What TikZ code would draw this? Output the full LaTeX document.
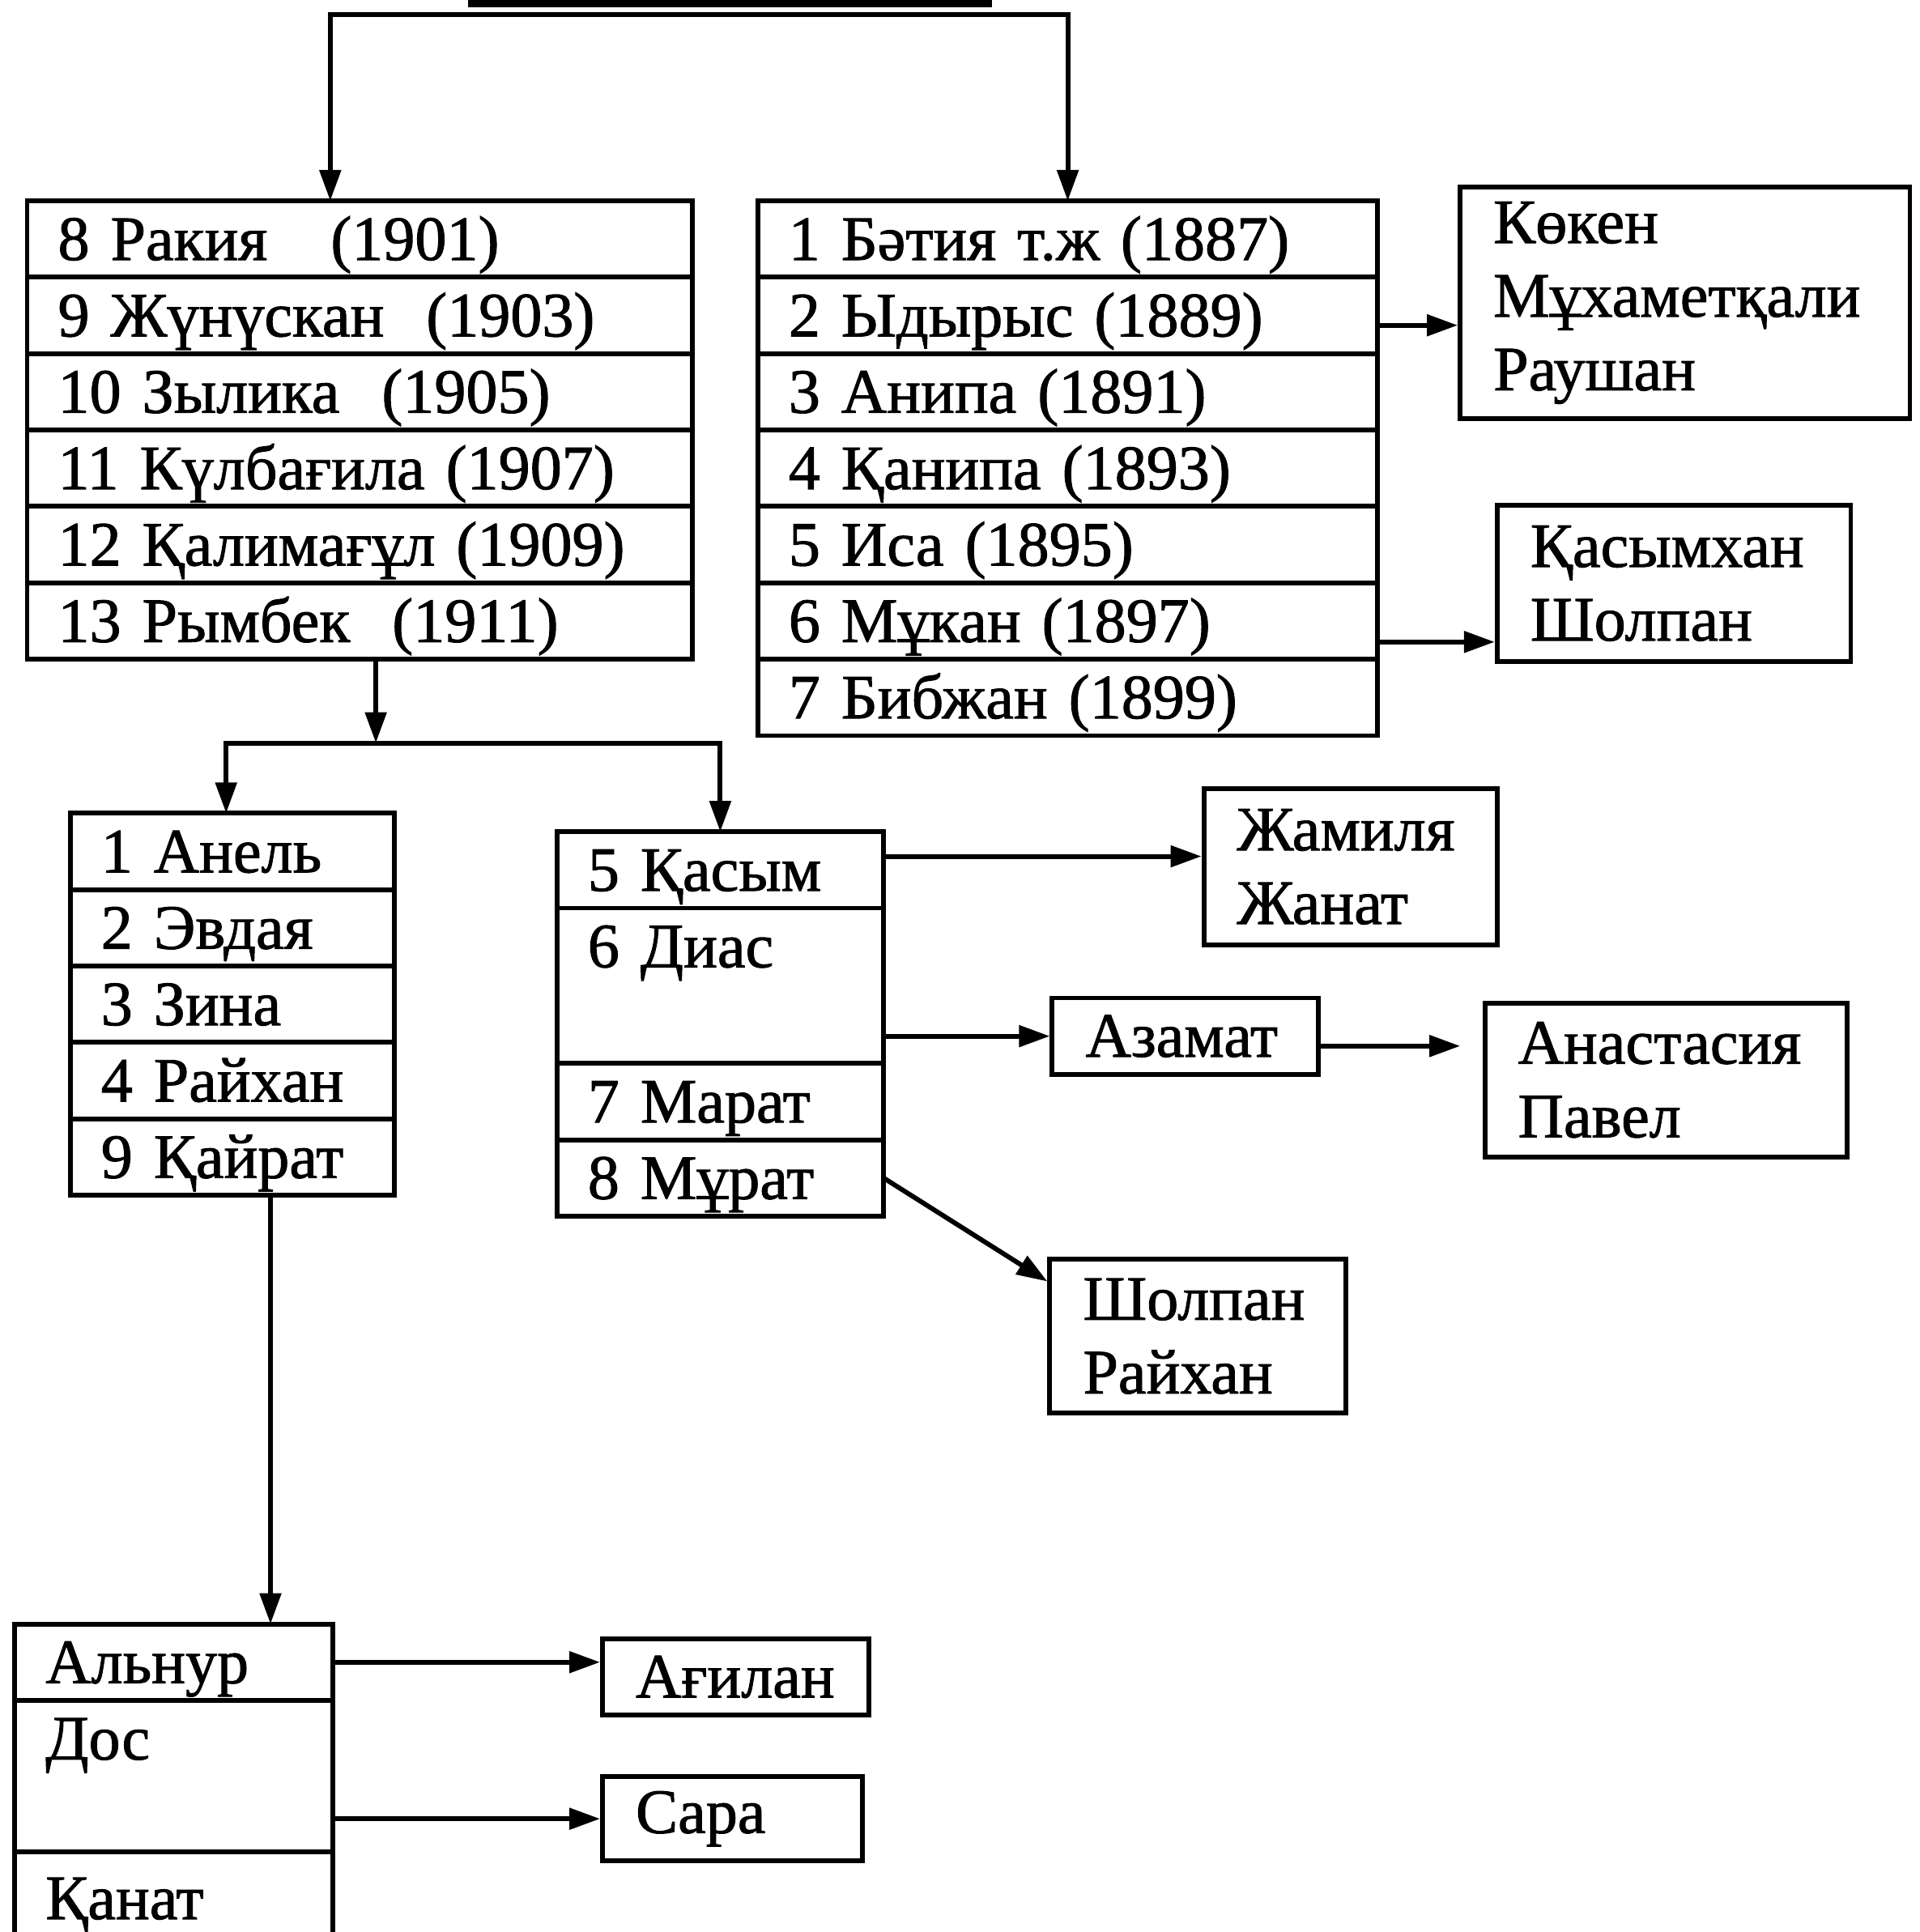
\documentclass[tikz,border=0pt]{standalone}
\usepackage{fontspec}
\setmainfont[FakeBold=1.2]{Liberation Serif}
\usetikzlibrary{positioning,arrows.meta}

\begin{document}
\begin{tikzpicture}[
  font=\fontsize{14.6}{17}\selectfont,
  row/.style={rectangle, draw, line width=1.1pt, text width=#1,
    inner xsep=0.25cm, inner ysep=0.09cm, outer sep=0pt,
    text height=0.39cm, text depth=0.05cm, align=left},
  names/.style={rectangle, draw, line width=1.1pt, text width=#1,
    inner xsep=0.27cm, anchor=north west, align=left},
  arr/.style={-{Triangle[length=0.25cm, width=0.17cm]}, line width=1.1pt}
]
\useasboundingbox (0,0) rectangle (15.58,-15.68);

% cut-off box at the top
\fill (3.80,0.02) rectangle (8.05,-0.06);
\coordinate (fork) at (5.68,-0.12);

% left family: rows 8--13
\node[row=4.90cm, anchor=north west] (l1) at (0.22,-1.63) {8 Ракия \ \ (1901)};
\node[row=4.90cm, below=0pt of l1] (l2) {9 Жүнүскан \ (1903)};
\node[row=4.90cm, below=0pt of l2] (l3) {10 Зылика \ (1905)};
\node[row=4.90cm, below=0pt of l3] (l4) {11 Күлбағила (1907)};
\node[row=4.90cm, below=0pt of l4] (l5) {12 Қалимағұл (1909)};
\node[row=4.90cm, below=0pt of l5] (l6) {13 Рымбек \ (1911)};

% right family: rows 1--7
\node[row=4.53cm, anchor=north west] (r1) at (6.15,-1.63) {1 Бәтия т.ж (1887)};
\node[row=4.53cm, below=0pt of r1] (r2) {2 Ыдырыс (1889)};
\node[row=4.53cm, below=0pt of r2] (r3) {3 Анипа (1891)};
\node[row=4.53cm, below=0pt of r3] (r4) {4 Қанипа (1893)};
\node[row=4.53cm, below=0pt of r4] (r5) {5 Иса (1895)};
\node[row=4.53cm, below=0pt of r5] (r6) {6 Мұкан (1897)};
\node[row=4.53cm, below=0pt of r6] (r7) {7 Бибжан (1899)};

\node[names=3.11cm, minimum height=1.83cm] (kok) at (11.83,-1.50)
  {Көкен\\Мұхаметқали\\Раушан};
\node[names=2.33cm, minimum height=1.27cm] (qas) at (12.13,-4.08)
  {Қасымхан\\Шолпан};

% children of Рымбек
\coordinate (fork2) at (3.05,-6.03);
\node[row=2.13cm, anchor=north west] (a1) at (0.57,-6.60) {1 Анель};
\node[row=2.13cm, below=0pt of a1] (a2) {2 Эвдая};
\node[row=2.13cm, below=0pt of a2] (a3) {3 Зина};
\node[row=2.13cm, below=0pt of a3] (a4) {4 Райхан};
\node[row=2.13cm, below=0pt of a4] (a5) {9 Қайрат};

\node[row=2.15cm, anchor=north west] (b1) at (4.52,-6.75) {5 Қасым};
\node[row=2.15cm, below=0pt of b1, text depth=0.69cm] (b2) {6 Диас};
\node[row=2.15cm, below=0pt of b2] (b3) {7 Марат};
\node[row=2.15cm, below=0pt of b3] (b4) {8 Мұрат};

\node[names=1.84cm, minimum height=1.27cm] (jam) at (9.75,-6.38)
  {Жамиля\\Жанат};
\node[names=1.62cm, minimum height=0.62cm] (az) at (8.52,-8.08) {Азамат};
\node[names=2.40cm, minimum height=1.25cm] (an) at (12.03,-8.12)
  {Анастасия\\Павел};
\node[names=1.86cm, minimum height=1.25cm] (sh) at (8.50,-10.20)
  {Шолпан\\Райхан};

% children of Қайрат
\node[row=2.08cm, anchor=north west] (c1) at (0.12,-13.18) {Альнур};
\node[row=2.08cm, below=0pt of c1, text depth=0.66cm] (c2) {Дос};
\node[row=2.08cm, below=0pt of c2, minimum height=0.75cm] (c3) {Қанат};

\node[names=1.62cm, minimum height=0.62cm] (ag) at (4.87,-13.28) {Ағилан};
\node[names=1.57cm, minimum height=0.65cm] (sara) at (4.87,-14.40) {Сара};

\draw[arr] (fork) -| ([xshift=-0.24cm]l1.north);
\draw[arr] (fork) -| (r1.north);
\draw[arr] ([yshift=-0.08cm]r2.east) -- ([yshift=-0.08cm]r2.east -| kok.west);
\draw[arr] ([yshift=-0.17cm]r6.east) -- ([yshift=-0.17cm]r6.east -| qas.west);
\draw[arr] ([xshift=0.13cm]l6.south) -- (fork2);
\draw[arr] (fork2) -| ([xshift=-0.05cm]a1.north);
\draw[arr] (fork2) -| (b1.north);
\draw[arr] ([yshift=0.11cm]b1.east) -- ([yshift=0.11cm]b1.east -| jam.west);
\draw[arr] (b2.east |- az.west) -- (az.west);
\draw[arr, shorten >=0.18cm] ([yshift=-0.08cm]az.east) -- ([yshift=-0.08cm]az.east -| an.west);
\draw[arr] (b4.east) -- ([yshift=-0.2cm]sh.north west);
\draw[arr] ([xshift=0.31cm]a5.south) -- ([xshift=0.31cm]a5.south |- c1.north);
\draw[arr] (c1.east) -- (c1.east -| ag.west);
\draw[arr] (c2.east |- sara.west) -- (sara.west);
\end{tikzpicture}
\end{document}
